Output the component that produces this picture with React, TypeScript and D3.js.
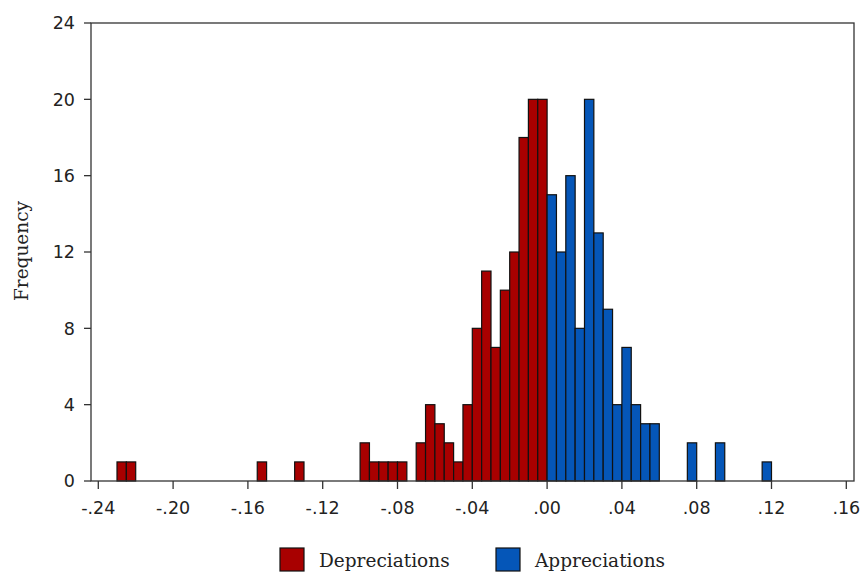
import * as d3 from "d3";

const width = 864;
const height = 572;
const frame = { left: 91, right: 854, top: 23, bottom: 481 };

const binWidth = 0.005;

// lower edge of each bin, and its count
const depBins = [-0.23, -0.225, -0.155, -0.135, -0.1, -0.095, -0.09, -0.085, -0.08, -0.07, -0.065, -0.06, -0.055, -0.05, -0.045, -0.04, -0.035, -0.03, -0.025, -0.02, -0.015, -0.01, -0.005];
const depCounts = [1, 1, 1, 1, 2, 1, 1, 1, 1, 2, 4, 3, 2, 1, 4, 8, 11, 7, 10, 12, 18, 20, 20];

const appBins = [0, 0.005, 0.01, 0.015, 0.02, 0.025, 0.03, 0.035, 0.04, 0.045, 0.05, 0.055, 0.075, 0.09, 0.115];
const appCounts = [15, 12, 16, 8, 20, 13, 9, 4, 7, 4, 3, 3, 2, 2, 1];

const xTicks = [-0.24, -0.2, -0.16, -0.12, -0.08, -0.04, 0, 0.04, 0.08, 0.12, 0.16];
const xTickLabels = ["-.24", "-.20", "-.16", "-.12", "-.08", "-.04", ".00", ".04", ".08", ".12", ".16"];
const yTicks = [0, 4, 8, 12, 16, 20, 24];

const series = [
  { name: "Depreciations", color: "#A80000", bins: depBins, counts: depCounts },
  { name: "Appreciations", color: "#0556B8", bins: appBins, counts: appCounts },
];

const x = d3.scaleLinear().domain([-0.24, 0.16]).range([98.3, 846.3]);
const y = d3.scaleLinear().domain([0, 24]).range([frame.bottom, frame.top]);

const tickFont = "'DejaVu Sans', Verdana, sans-serif";
const serifFont = "'DejaVu Serif', serif";
const axisColor = "#333";

export default function App() {
  return (
    <svg
      width={width}
      height={height}
      viewBox={`0 0 ${width} ${height}`}
      style={{ position: "absolute", left: 0, top: 0, background: "#fff" }}
    >
      {/* bars */}
      {series.map(s =>
        s.bins.map((b, i) => (
          <rect
            key={s.name + i}
            x={x(b)}
            y={y(s.counts[i])}
            width={x(b + binWidth) - x(b)}
            height={y(0) - y(s.counts[i])}
            fill={s.color}
            stroke="#111"
            strokeWidth={1.2}
          />
        ))
      )}

      {/* frame */}
      <rect
        x={frame.left}
        y={frame.top}
        width={frame.right - frame.left}
        height={frame.bottom - frame.top}
        fill="none"
        stroke={axisColor}
        strokeWidth={1.3}
      />

      {/* y axis */}
      {yTicks.map(t => (
        <g key={"y" + t}>
          <line x1={frame.left - 7} x2={frame.left} y1={y(t)} y2={y(t)} stroke={axisColor} strokeWidth={1.3} />
          <text
            x={frame.left - 16}
            y={y(t)}
            dy="0.36em"
            textAnchor="end"
            fontFamily={tickFont}
            fontSize={17.5}
            fill="#222"
          >
            {t}
          </text>
        </g>
      ))}

      {/* x axis */}
      {xTicks.map((t, i) => (
        <g key={"x" + i}>
          <line x1={x(t)} x2={x(t)} y1={frame.bottom} y2={frame.bottom + 8} stroke={axisColor} strokeWidth={1.3} />
          <text
            x={x(t)}
            y={514}
            textAnchor="middle"
            fontFamily={tickFont}
            fontSize={17.5}
            fill="#222"
          >
            {xTickLabels[i]}
          </text>
        </g>
      ))}

      <text
        transform="translate(28,251) rotate(-90)"
        textAnchor="middle"
        fontFamily={serifFont}
        fontSize={18.5}
        fill="#222"
      >
        Frequency
      </text>

      {/* legend */}
      {series.map((s, i) => {
        const lx = i === 0 ? 280 : 496;
        return (
          <g key={"lg" + i}>
            <rect x={lx} y={548} width={24} height={23} fill={s.color} stroke="#111" strokeWidth={1.2} />
            <text x={lx + 39} y={567} fontFamily={serifFont} fontSize={18.5} fill="#222">
              {s.name}
            </text>
          </g>
        );
      })}
    </svg>
  );
}
